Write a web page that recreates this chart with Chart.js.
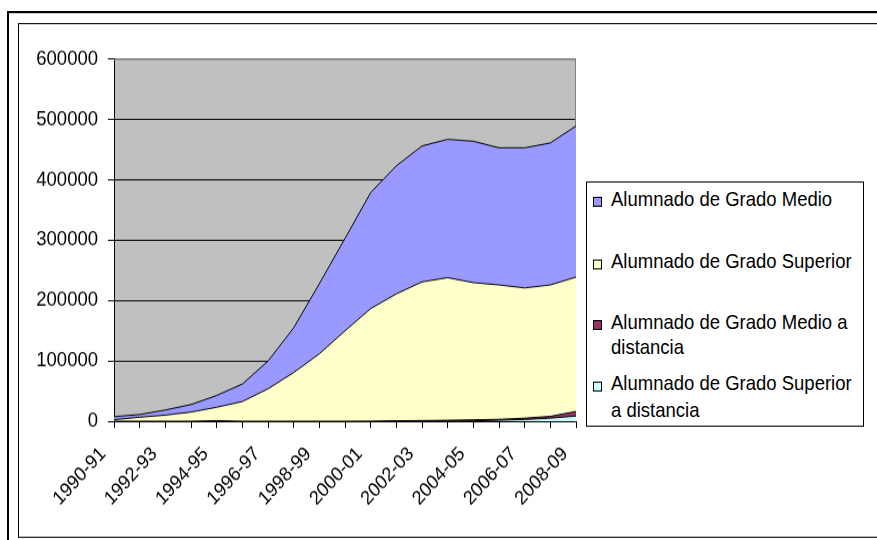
<!DOCTYPE html>
<html lang="es">
<head>
  <meta charset="UTF-8">
  <title>Alumnado de Formación Profesional</title>
  <script src="https://cdn.jsdelivr.net/npm/chart.js"></script>
  <style>
    html, body {
      margin: 0;
      padding: 0;
      background: #fff;
      overflow: hidden;
    }
    body {
      width: 877px;
      height: 540px;
      position: relative;
    }
    /* the original picture is slightly stretched vertically */
    #sheet {
      position: absolute;
      left: 0;
      top: 0;
      width: 877px;
      height: 491px;
      transform: scaleY(1.0998);
      transform-origin: 0 0;
      font-family: "Liberation Sans", Arial, sans-serif;
    }
    .frame-outer {
      position: absolute;
      left: 7px;
      top: 10px;
      width: 900px;
      height: 600px;
      border: 2px solid #000;
    }
    .frame-inner {
      position: absolute;
      left: 18px;
      top: 20.5px;
      width: 900px;
      height: 466px;
      border: 1px solid #000;
    }
    .chart-box {
      position: absolute;
      left: 0;
      top: 0;
      width: 877px;
      height: 491px;
    }
    #legend {
      position: absolute;
      left: 586px;
      top: 164.5px;
      width: 276px;
      height: 221.5px;
      border: 1px solid #000;
      background: #fff;
    }
    .legend-item {
      position: absolute;
      left: 24px;
      width: 246px;
      font-size: 18.5px;
      line-height: 23.6px;
      color: #000;
    }
    .legend-swatch {
      position: absolute;
      left: -18px;
      top: 10px;
      width: 7px;
      height: 7px;
      border: 1px solid #000;
    }
  </style>
</head>
<body>
  <div id="sheet">
    <div class="frame-outer"></div>
    <div class="frame-inner"></div>
    <div class="chart-box">
      <canvas id="fpChart"></canvas>
    </div>
    <div id="legend"></div>
  </div>

  <script>
    // Data
    const seasons = ['1990-91', '1991-92', '1992-93', '1993-94', '1994-95', '1995-96', '1996-97',
      '1997-98', '1998-99', '1999-00', '2000-01', '2001-02', '2002-03', '2003-04', '2004-05',
      '2005-06', '2006-07', '2007-08', '2008-09'];

    const gradoMedio = [5000, 4500, 8500, 12500, 19500, 29000, 46000, 74000, 116000, 153000,
      192000, 212000, 225000, 229000, 234000, 227000, 232000, 235000, 250000];
    const gradoSuperior = [3000, 7000, 10500, 15500, 22000, 33000, 54000, 81000, 112000, 150000,
      186500, 210000, 229500, 236000, 227000, 222500, 215500, 217500, 222500];
    const medioDistancia = [0, 0, 0, 0, 1500, 0, 0, 0, 0, 0,
      300, 1200, 1200, 1500, 1800, 1500, 2200, 3000, 7500];
    const superiorDistancia = [0, 0, 0, 0, 0, 0, 0, 0, 0, 0,
      0, 0, 300, 500, 1000, 2000, 3300, 5500, 9000];

    const seriesNames = ['Alumnado de Grado Medio', 'Alumnado de Grado Superior',
      'Alumnado de Grado Medio a distancia', 'Alumnado de Grado Superior a distancia'];
    const seriesColors = ['#9999FF', '#FFFFCC', '#993366', '#CCFFFF'];
    const yTicks = [0, 100000, 200000, 300000, 400000, 500000, 600000];

    Chart.defaults.font.family = '"Liberation Sans", Arial, sans-serif';
    Chart.defaults.color = '#000';

    // grey plot area and its top/right border
    const plotBackground = {
      id: 'plotBackground',
      beforeDraw(chart) {
        const { ctx, chartArea: a } = chart;
        ctx.save();
        ctx.fillStyle = '#C0C0C0';
        ctx.fillRect(a.left, a.top, a.right - a.left, a.bottom - a.top);
        ctx.restore();
      },
      beforeDatasetsDraw(chart) {
        const { ctx, chartArea: a } = chart;
        ctx.save();
        ctx.strokeStyle = '#808080';
        ctx.lineWidth = 1;
        ctx.beginPath();
        ctx.moveTo(a.left, a.top + 0.5);
        ctx.lineTo(a.right - 0.5, a.top + 0.5);
        ctx.lineTo(a.right - 0.5, a.bottom);
        ctx.stroke();
        ctx.restore();
      }
    };

    function areaSet(i, data, fill) {
      return {
        label: seriesNames[i],
        data: data,
        backgroundColor: seriesColors[i],
        borderColor: '#000',
        borderWidth: 1,
        fill: fill,
        pointRadius: 0,
        tension: 0
      };
    }

    new Chart(document.getElementById('fpChart'), {
      type: 'line',
      data: {
        labels: seasons,
        // bottom of the stack first
        datasets: [
          areaSet(3, superiorDistancia, 'origin'),
          areaSet(2, medioDistancia, '-1'),
          areaSet(1, gradoSuperior, '-1'),
          areaSet(0, gradoMedio, '-1')
        ]
      },
      options: {
        responsive: true,
        maintainAspectRatio: false,
        animation: false,
        layout: {
          padding: { left: 0, top: 53.6, right: 301, bottom: 0 }
        },
        plugins: {
          legend: { display: false },
          tooltip: { enabled: false }
        },
        scales: {
          x: {
            offset: false,
            grid: {
              drawOnChartArea: false,
              drawTicks: true,
              tickLength: 6,
              color: '#000'
            },
            border: { display: true, color: '#000', width: 1 },
            ticks: {
              autoSkip: false,
              maxRotation: 45,
              minRotation: 45,
              padding: 13,
              labelOffset: -11,
              font: { size: 18 },
              callback: function (value, index) {
                return index % 2 === 0 ? this.getLabelForValue(value) : '';
              }
            },
            afterFit(scale) { scale.height = 107.8; }
          },
          y: {
            stacked: true,
            min: yTicks[0],
            max: yTicks[yTicks.length - 1],
            grid: {
              color: c => (c.tick && c.tick.value === 600000 ? '#808080' : '#000'),
              tickColor: '#000',
              tickLength: 6,
              lineWidth: 1
            },
            border: { display: true, color: '#000', width: 1 },
            ticks: {
              stepSize: 100000,
              padding: 10,
              font: { size: 18.5 },
              callback: value => String(value)
            },
            afterFit(scale) { scale.width = 114; }
          }
        }
      },
      plugins: [plotBackground]
    });

    // legend box, Excel style
    const itemTops = [3.6, 60.9, 115.4, 171.8];
    const legend = document.getElementById('legend');
    seriesNames.forEach((name, i) => {
      const item = document.createElement('div');
      item.className = 'legend-item';
      item.style.top = itemTops[i] + 'px';
      item.innerHTML = '<span class="legend-swatch" style="background:' + seriesColors[i] + '"></span>' + name;
      legend.appendChild(item);
    });
  </script>
</body>
</html>
